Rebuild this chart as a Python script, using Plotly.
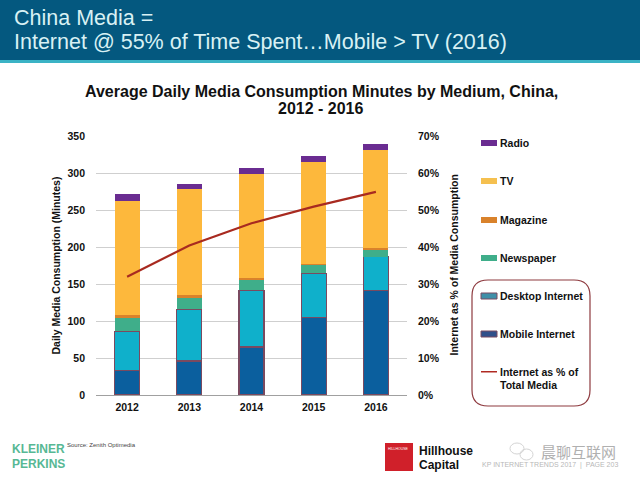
"""China media consumption slide: stacked minutes by medium plus internet share."""

import plotly.graph_objects as go

WIDTH, HEIGHT = 640, 480
FONT = 'Liberation Sans'

years = ['2012', '2013', '2014', '2015', '2016']
mobile = [33, 46, 65, 105, 141]
desktop = [53.5, 70, 77, 60, 46]
newspaper = [18, 17, 14, 12.5, 11]
magazine = [3.5, 2, 3, 0.5, 0.5]
tv = [154, 144, 140.5, 137, 133]
radio = [10, 7, 8.5, 8, 8]
internet_share = [32, 40.5, 46.5, 51, 55]

left_ticks = [0, 50, 100, 150, 200, 250, 300, 350]
left_tick_labels = ['<b>0</b>', '<b>50</b>', '<b>100</b>', '<b>150</b>',
                    '<b>200</b>', '<b>250</b>', '<b>300</b>', '<b>350</b>']
right_ticks = [0, 10, 20, 30, 40, 50, 60, 70]
right_tick_labels = ['<b>0%</b>', '<b>10%</b>', '<b>20%</b>', '<b>30%</b>',
                     '<b>40%</b>', '<b>50%</b>', '<b>60%</b>', '<b>70%</b>']

legend_names = ['Radio', 'TV', 'Magazine', 'Newspaper', 'Desktop Internet', 'Mobile Internet']
legend_colors = ['#6a2c91', '#f5c04f', '#d9822b', '#3fae8a', '#3f8fa8', '#2f4f8a']
legend_edges = ['#6a2c91', '#f5c04f', '#d9822b', '#3fae8a', '#7a4a60', '#7a4a60']
legend_ys = [143, 181, 220, 258, 296, 334]


def px(x):
    return x / WIDTH


def py(y):
    return 1 - y / HEIGHT


def label(x, y, text, size=10.5, color='#111111', bold=False, anchor='left', family=FONT, **kw):
    if bold:
        text = f'<b>{text}</b>'
    # anotacao tem 2px de padding
    if anchor == 'left':
        x -= 2
    return dict(xref='paper', yref='paper', x=px(x), y=py(y), text=text, showarrow=False,
                xanchor=anchor, yanchor='middle', align=anchor,
                font=dict(size=size, color=color, family=family), **kw)


def box(x0, y0, x1, y1, color, edge=None):
    return dict(type='rect', xref='paper', yref='paper', layer='above',
                x0=px(x0), y0=py(y0), x1=px(x1), y1=py(y1), fillcolor=color,
                line=dict(color=edge or color, width=1 if edge else 0))


fig = go.Figure()

# Barras empilhadas
internet_edge = dict(color='#7a4a60', width=1.2)
series = [
    ('Mobile Internet', mobile, '#0b5f9e', internet_edge),
    ('Desktop Internet', desktop, '#0fb0cb', internet_edge),
    ('Newspaper', newspaper, '#3fae8a', dict(width=0)),
    ('Magazine', magazine, '#d9822b', dict(width=0)),
    ('TV', tv, '#fdb83c', dict(width=0)),
    ('Radio', radio, '#6a2c91', dict(width=0)),
]
for name, values, color, edge in series:
    fig.add_trace(go.Bar(x=years, y=values, name=name, marker=dict(color=color, line=edge)))

# Linha do share
fig.add_trace(go.Scatter(x=years, y=internet_share, yaxis='y2', mode='lines',
                         name='Internet as % of Total Media',
                         line=dict(color='#a82a20', width=2.2)))

shapes = [
    box(0, 0, 640, 60, '#04587f'),
    box(0, 60, 640, 63, '#3bb3c5'),
    # Caixa arredondada da legenda
    dict(type='path', xref='paper', yref='paper', line=dict(color='#8e3a3f', width=1.2),
         path=f'M {px(488)} {py(280)} L {px(574)} {py(280)} Q {px(590)} {py(280)} {px(590)} {py(296)} '
              f'L {px(590)} {py(390)} Q {px(590)} {py(406)} {px(574)} {py(406)} '
              f'L {px(488)} {py(406)} Q {px(472)} {py(406)} {px(472)} {py(390)} '
              f'L {px(472)} {py(296)} Q {px(472)} {py(280)} {px(488)} {py(280)}'),
    box(481, 371, 497, 372.5, '#b02a22'),
    box(385, 443, 413, 471, '#d0202a'),
    # Marca d'agua
    dict(type='circle', xref='paper', yref='paper', line=dict(color='#d4d4d4', width=1),
         x0=px(510), y0=py(454), x1=px(524), y1=py(443)),
    dict(type='circle', xref='paper', yref='paper', line=dict(color='#d4d4d4', width=1),
         x0=px(520), y0=py(460), x1=px(533), y1=py(449)),
]
annotations = [
    label(14, 17.5, 'China Media =', size=21.5, color='#d8f1f4'),
    label(14, 42.5, 'Internet @ 55% of Time Spent…Mobile &gt; TV (2016)', size=21.5, color='#d8f1f4'),
    label(321, 91, 'Average Daily Media Consumption Minutes by Medium, China,', size=16, bold=True, anchor='center'),
    label(321, 108.5, '2012 - 2016', size=16, bold=True, anchor='center'),
    label(500, 372, 'Internet as % of', bold=True),
    label(500, 385, 'Total Media', bold=True),
    label(12, 449, 'KLEINER', size=12, color='#57b894', bold=True),
    label(12, 464, 'PERKINS', size=12, color='#57b894', bold=True),
    label(67, 445, 'Source: Zenith Optimedia', size=6, color='#444444'),
    label(419, 450.5, 'Hillhouse', size=12, color='#111111', bold=True),
    label(419, 465, 'Capital', size=12, color='#111111', bold=True),
    label(388, 449, 'HILLHOUSE', size=3.5, color='#ffffff'),
    label(541, 451, '晨聊互联网', size=15, color='#b0b0b0', family='Noto Sans CJK SC'),
    label(482, 465, 'KP INTERNET TRENDS 2017  |  PAGE 203', size=7, color='#b8b8b8'),
    label(55, 265.5, 'Daily Media Consumption (Minutes)', bold=True, anchor='center', textangle=-90),
    label(453, 265.5, 'Internet as % of Media Consumption', bold=True, anchor='center', textangle=-90),
]
for name, color, edge, y in zip(legend_names, legend_colors, legend_edges, legend_ys):
    shapes.append(box(481, y - 3, 497, y + 3, color, edge if edge != color else None))
    annotations.append(label(500, y, name, bold=True))

tick_font = dict(size=10.5, color='#111111', family=FONT)
fig.update_layout(
    width=WIDTH, height=HEIGHT,
    margin=dict(l=0, r=0, t=0, b=0, autoexpand=False),
    paper_bgcolor='white', plot_bgcolor='white',
    barmode='stack', bargap=0.6, showlegend=False,
    font=dict(family=FONT, color='#111111'),
    xaxis=dict(type='category', domain=[px(96), px(407)], range=[-0.5, 4.5],
               showline=True, linecolor='#a0a0a0', ticks='', showgrid=False,
               tickfont=tick_font, tickprefix='<b>', ticksuffix='</b>', ticklabelstandoff=2),
    yaxis=dict(domain=[py(395), py(136.5)], range=[0, 350],
               tickvals=left_ticks, ticktext=left_tick_labels,
               gridcolor='#cfcfcf', gridwidth=1, zeroline=False, tickfont=tick_font,
               ticklabelstandoff=10),
    yaxis2=dict(range=[0, 70], tickvals=right_ticks, ticktext=right_tick_labels,
                overlaying='y', side='right', showgrid=False, zeroline=False,
                tickfont=tick_font, ticklabelstandoff=10),
    shapes=shapes, annotations=annotations,
)

fig.write_html("out.html", config=dict(displayModeBar=False),
               post_script="document.body.style.margin='0'")
